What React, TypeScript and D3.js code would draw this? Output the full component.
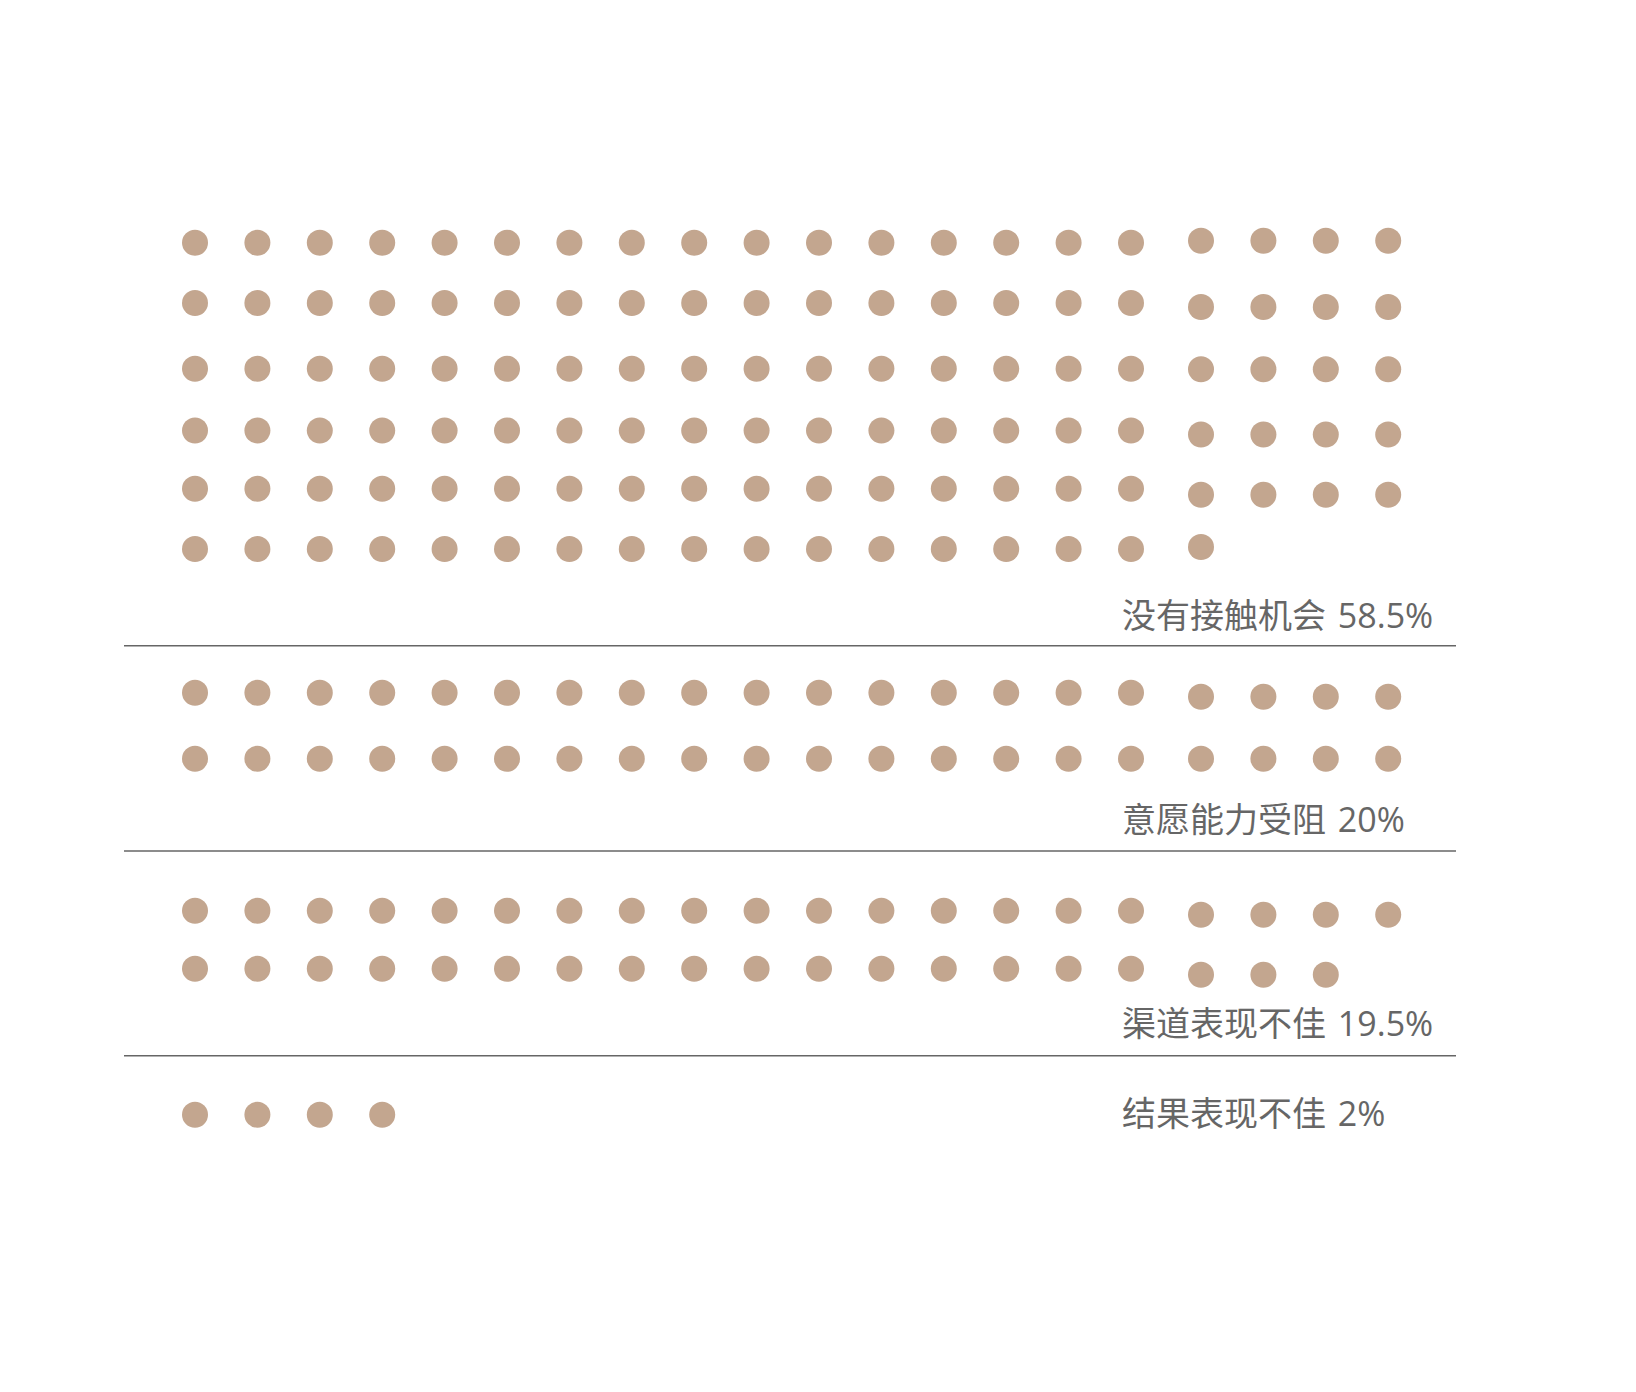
import React from "react";
import * as d3 from "d3";

// ---- data ----
const categories = ["没有接触机会", "意愿能力受阻", "渠道表现不佳", "结果表现不佳"];
const shares = [58.5, 20, 19.5, 2];
const unitShare = 0.5; // each dot = 0.5%

// ---- layout (positions / styles, not data) ----
const W = 1636;
const H = 1392;
const mainCols = 16;
const tailCols = 4;
const dotR = 13;
const dotColor = "#c3a68f";
const textColor = "#666666";
const lineColor = "#666666";
const groupFirstRowY = [242.7, 692.7, 910.7, 1114.7];
const groupRowStep = [61.26, 66, 58, 60];
const labelBaseline = [628, 832, 1036, 1126];
const separatorY = [645.7, 851, 1055.7];
const mainRowNudge = [[0, -1, 3.5, 4, 1, 0], [0, 0], [0, 0], [0]];
const tailRowNudge = [[-2, 3, 4, 8, 7, -2], [4, 0], [4, 6], [0]];
const tailGap = 7.6;

const xScale = d3.scaleLinear().domain([0, mainCols - 1]).range([195, 1131]);

type Dot = { key: string; cx: number; cy: number };

function buildDots(gi: number): Dot[] {
  const n = Math.round(shares[gi] / unitShare);
  const rows = Math.ceil(n / (mainCols + tailCols));
  const yScale = d3
    .scaleLinear()
    .domain([0, 1])
    .range([groupFirstRowY[gi], groupFirstRowY[gi] + groupRowStep[gi]]);
  const mainCount = Math.min(n, rows * mainCols);
  const dots: Dot[] = [];
  for (let i = 0; i < mainCount; i++) {
    const r = Math.floor(i / mainCols);
    const c = i % mainCols;
    dots.push({
      key: `m${gi}-${i}`,
      cx: xScale(c),
      cy: yScale(r) + (mainRowNudge[gi][r] || 0),
    });
  }
  const tailCount = n - mainCount;
  for (let i = 0; i < tailCount; i++) {
    const r = Math.floor(i / tailCols);
    const c = i % tailCols;
    dots.push({
      key: `t${gi}-${i}`,
      cx: xScale(mainCols + c) + tailGap,
      cy: yScale(r) + (tailRowNudge[gi][r] || 0),
    });
  }
  return dots;
}

export default function App() {
  const groups = categories.map((cat, gi) => ({
    cat,
    label: `${cat} ${shares[gi]}%`,
    dots: buildDots(gi),
  }));
  return (
    <svg
      width={W}
      height={H}
      style={{ position: "absolute", left: 0, top: 0, background: "#ffffff" }}
      fontFamily={'"Open Sans", "Noto Sans CJK SC", sans-serif'}
    >
      <rect x={0} y={0} width={W} height={H} fill="#ffffff" />
      {groups.map((g, gi) => (
        <g key={g.cat}>
          {g.dots.map((d) => (
            <circle key={d.key} cx={d.cx} cy={d.cy} r={dotR} fill={dotColor} />
          ))}
          <text
            x={1122}
            y={labelBaseline[gi]}
            fontSize={34}
            fill={textColor}
            style={{ wordSpacing: "3px" }}
          >
            {g.label}
          </text>
        </g>
      ))}
      {separatorY.map((y, i) => (
        <line key={i} x1={124} x2={1456} y1={y} y2={y} stroke={lineColor} strokeWidth={1.4} />
      ))}
    </svg>
  );
}
